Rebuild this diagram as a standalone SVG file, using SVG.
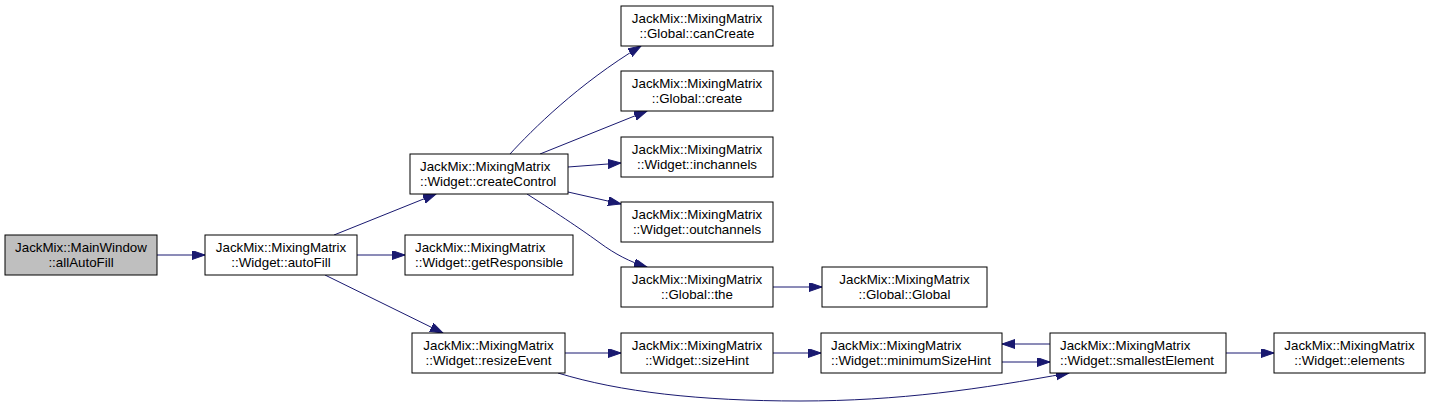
<svg xmlns="http://www.w3.org/2000/svg" width="1432" height="407" viewBox="0 0 1432 407">
<style>
.box{fill:#ffffff;stroke:#000000;stroke-width:1}
.root{fill:#bfbfbf}
text{font-family:"Liberation Sans",Arial,sans-serif;font-size:13.33px;fill:#000000}
.c{text-anchor:middle}
.s{text-anchor:start}
.e{fill:none;stroke:#191970;stroke-width:1}
</style>
<defs>
<marker id="arr" markerUnits="userSpaceOnUse" markerWidth="14" markerHeight="10" refX="13" refY="4.5" orient="auto" viewBox="0 0 14 10">
<path d="M0,0 L13,4.5 L0,9 z" fill="#191970" stroke="#191970" stroke-width="1"/>
</marker>
</defs>
<rect width="1432" height="407" fill="#ffffff"/>
<g id="edges">
<path class="e" marker-end="url(#arr)" d="M157,255 L205,255"/>
<path class="e" marker-end="url(#arr)" d="M334,235 L436,194"/>
<path class="e" marker-end="url(#arr)" d="M357,255 L405,255"/>
<path class="e" marker-end="url(#arr)" d="M325,275 L443,333"/>
<path class="e" marker-end="url(#arr)" d="M510,154 C532,130 578,84 641,46"/>
<path class="e" marker-end="url(#arr)" d="M540,154 L647,111"/>
<path class="e" marker-end="url(#arr)" d="M568,167 L621,163"/>
<path class="e" marker-end="url(#arr)" d="M568,192 L621,204"/>
<path class="e" marker-end="url(#arr)" d="M527,194 C560,215 585,232 600,243 C615,254 630,262 647,267"/>
<path class="e" marker-end="url(#arr)" d="M773,287 L822,287"/>
<path class="e" marker-end="url(#arr)" d="M565,353 L621,353"/>
<path class="e" marker-end="url(#arr)" d="M773,353 L821,353"/>
<path class="e" marker-end="url(#arr)" d="M1002,362 L1050,362"/>
<path class="e" marker-end="url(#arr)" d="M1050,344 L1002,344"/>
<path class="e" marker-end="url(#arr)" d="M1226,353 L1274,353"/>
<path class="e" marker-end="url(#arr)" d="M558,373 C620,392 700,401 800,401 C900,401 980,389 1069,373"/>
</g>
<g id="n0"><rect class="box root" x="5" y="235" width="152" height="40"/><text class="c" x="81" y="252">JackMix::MainWindow</text><text class="c" x="81" y="267">::allAutoFill</text></g>
<g id="n1"><rect class="box" x="205" y="235" width="152" height="40"/><text class="c" x="281" y="252">JackMix::MixingMatrix</text><text class="c" x="281" y="267">::Widget::autoFill</text></g>
<g id="n2"><rect class="box" x="410" y="154" width="158" height="40"/><text class="s" x="420" y="171">JackMix::MixingMatrix</text><text class="s" x="420" y="186">::Widget::createControl</text></g>
<g id="n3"><rect class="box" x="405" y="235" width="168" height="40"/><text class="s" x="415" y="252">JackMix::MixingMatrix</text><text class="s" x="415" y="267">::Widget::getResponsible</text></g>
<g id="n4"><rect class="box" x="412" y="333" width="153" height="40"/><text class="c" x="488.5" y="350">JackMix::MixingMatrix</text><text class="c" x="488.5" y="365">::Widget::resizeEvent</text></g>
<g id="n5"><rect class="box" x="621" y="6" width="152" height="40"/><text class="c" x="697" y="23">JackMix::MixingMatrix</text><text class="c" x="697" y="38">::Global::canCreate</text></g>
<g id="n6"><rect class="box" x="621" y="71" width="152" height="40"/><text class="c" x="697" y="88">JackMix::MixingMatrix</text><text class="c" x="697" y="103">::Global::create</text></g>
<g id="n7"><rect class="box" x="621" y="137" width="152" height="40"/><text class="c" x="697" y="154">JackMix::MixingMatrix</text><text class="c" x="697" y="169">::Widget::inchannels</text></g>
<g id="n8"><rect class="box" x="621" y="202" width="152" height="40"/><text class="c" x="697" y="219">JackMix::MixingMatrix</text><text class="c" x="697" y="234">::Widget::outchannels</text></g>
<g id="n9"><rect class="box" x="621" y="267" width="152" height="40"/><text class="c" x="697" y="284">JackMix::MixingMatrix</text><text class="c" x="697" y="299">::Global::the</text></g>
<g id="n10"><rect class="box" x="822" y="267" width="165" height="40"/><text class="c" x="904.5" y="284">JackMix::MixingMatrix</text><text class="c" x="904.5" y="299">::Global::Global</text></g>
<g id="n11"><rect class="box" x="621" y="333" width="152" height="40"/><text class="c" x="697" y="350">JackMix::MixingMatrix</text><text class="c" x="697" y="365">::Widget::sizeHint</text></g>
<g id="n12"><rect class="box" x="821" y="333" width="181" height="40"/><text class="s" x="831" y="350">JackMix::MixingMatrix</text><text class="s" x="831" y="365">::Widget::minimumSizeHint</text></g>
<g id="n13"><rect class="box" x="1050" y="333" width="176" height="40"/><text class="s" x="1060" y="350">JackMix::MixingMatrix</text><text class="s" x="1060" y="365">::Widget::smallestElement</text></g>
<g id="n14"><rect class="box" x="1274" y="333" width="151" height="40"/><text class="c" x="1349.5" y="350">JackMix::MixingMatrix</text><text class="c" x="1349.5" y="365">::Widget::elements</text></g>
</svg>
